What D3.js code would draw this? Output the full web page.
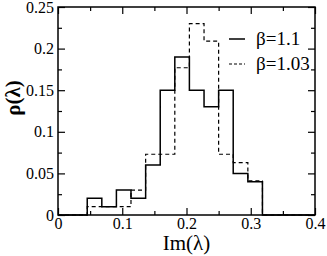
<!DOCTYPE html>
<html>
<head>
<meta charset="utf-8">
<script src="https://cdn.jsdelivr.net/npm/d3@7"></script>
<style>
  body { margin: 0; background: #fff; }
  .domain { display: none; }
  .tick line { stroke: #000; stroke-width: 1.2; }
</style>
</head>
<body>
<div id="chart"></div>
<script>
// bin edges of Im(lambda) and histogram heights
const binEdges = [0.0455, 0.0682, 0.0909, 0.1136, 0.1364, 0.1591, 0.1818, 0.2045, 0.2273, 0.25, 0.2727, 0.2955, 0.3182];
const rhoBeta11 = [0.02, 0.01, 0.03, 0.02, 0.06, 0.15, 0.19, 0.15, 0.13, 0.15, 0.05, 0.04];
const rhoBeta103 = [0.01, 0.01, 0.01, 0.03, 0.073, 0.073, 0.177, 0.23, 0.209, 0.073, 0.063, 0.041];
const xTicks = [0, 0.1, 0.2, 0.3, 0.4];
const yTicks = [0, 0.05, 0.1, 0.15, 0.2, 0.25];
const legendLabels = ["β=1.1", "β=1.03"];

const W = 327, H = 256;
const m = { left: 58, right: 12, top: 7, bottom: 41 };
const serif = '"Liberation Serif", "Times New Roman", Times, "DejaVu Serif", serif';

const svg = d3.select('#chart').append('svg')
  .attr('width', W).attr('height', H);

const x = d3.scaleLinear().domain([0, 0.4]).range([m.left, W - m.right]);
const y = d3.scaleLinear().domain([0, 0.25]).range([H - m.bottom, m.top]);

const xMinor = d3.range(0.05, 0.4, 0.1);
const yMinor = d3.range(0.025, 0.25, 0.05);
const fmt = d => d === 0 ? '0' : String(+d.toFixed(2));

// ticks point inward on all four sides
const addAxis = (axis, tr) => svg.append('g').attr('transform', tr).call(axis);
const bottom = addAxis(d3.axisBottom(x).tickValues(xTicks).tickSize(-7).tickPadding(3).tickFormat(fmt), `translate(0,${H - m.bottom})`);
addAxis(d3.axisBottom(x).tickValues(xMinor).tickSize(-4).tickFormat(''), `translate(0,${H - m.bottom})`);
addAxis(d3.axisTop(x).tickValues(xTicks).tickSize(-7).tickFormat(''), `translate(0,${m.top})`);
addAxis(d3.axisTop(x).tickValues(xMinor).tickSize(-4).tickFormat(''), `translate(0,${m.top})`);
const left = addAxis(d3.axisLeft(y).tickValues(yTicks).tickSize(-7).tickPadding(4).tickFormat(fmt), `translate(${m.left},0)`);
addAxis(d3.axisLeft(y).tickValues(yMinor).tickSize(-4).tickFormat(''), `translate(${m.left},0)`);
addAxis(d3.axisRight(y).tickValues(yTicks).tickSize(-7).tickFormat(''), `translate(${W - m.right},0)`);
addAxis(d3.axisRight(y).tickValues(yMinor).tickSize(-4).tickFormat(''), `translate(${W - m.right},0)`);

bottom.attr('font-family', null).selectAll('text').style('font-family', serif).style('font-size', '16px');
left.attr('font-family', null).selectAll('text').style('font-family', serif).style('font-size', '16px');

// step outline of each histogram
const stepPoints = vals => [[0, 0], ...vals.map((v, i) => [binEdges[i], v]), [binEdges[binEdges.length - 1], 0], [0.4, 0]];
const line = d3.line().x(d => x(d[0])).y(d => y(d[1])).curve(d3.curveStepAfter);

svg.append('path').datum(stepPoints(rhoBeta103))
  .attr('d', line).attr('fill', 'none').attr('stroke', '#000')
  .attr('stroke-width', 1.2).attr('stroke-dasharray', '4,3');
svg.append('path').datum(stepPoints(rhoBeta11))
  .attr('d', line).attr('fill', 'none').attr('stroke', '#000')
  .attr('stroke-width', 1.5);

// frame
svg.append('rect')
  .attr('x', m.left).attr('y', m.top)
  .attr('width', W - m.left - m.right).attr('height', H - m.top - m.bottom)
  .attr('fill', 'none').attr('stroke', '#000').attr('stroke-width', 1.5);

// legend
const legend = svg.append('g');
legendLabels.forEach((lab, i) => {
  const ly = 39 + i * 25;
  legend.append('line')
    .attr('x1', 229).attr('x2', 245).attr('y1', ly).attr('y2', ly)
    .attr('stroke', '#000').attr('stroke-width', i === 0 ? 1.5 : 1.2)
    .attr('stroke-dasharray', i === 0 ? null : '3,2');
  legend.append('text')
    .attr('x', 256).attr('y', ly + 6)
    .style('font-family', serif).style('font-size', '19px').text(lab);
});

// axis titles
svg.append('text')
  .attr('x', x(0.2)).attr('y', 250)
  .attr('text-anchor', 'middle')
  .style('font-family', serif).style('font-size', '21px')
  .text('Im(λ)');
svg.append('text')
  .attr('transform', 'translate(20,98) rotate(-90)')
  .attr('text-anchor', 'middle')
  .style('font-family', serif).style('font-size', '21px').style('font-weight', 'bold')
  .text('ρ(λ)');
</script>
</body>
</html>
